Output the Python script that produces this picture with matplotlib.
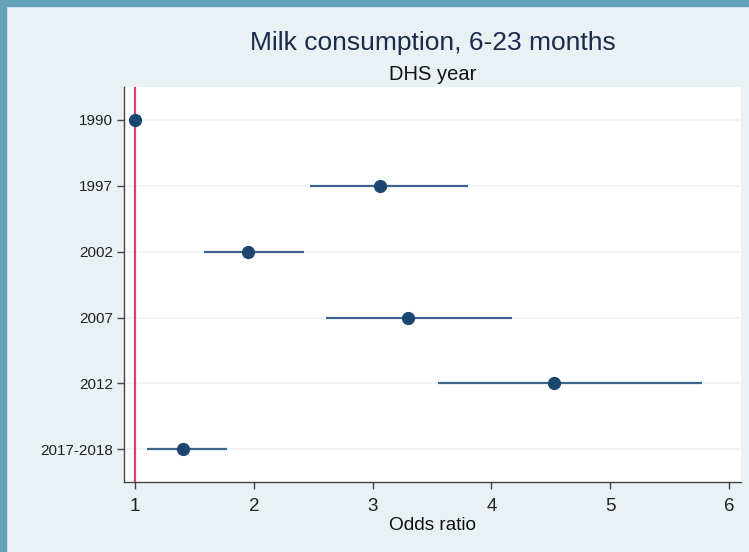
import numpy as np
import matplotlib.pyplot as plt

plt.rcParams['font.family'] = ['Liberation Sans', 'DejaVu Sans']

# Odds ratios with 95% CI by survey round
years = ['1990', '1997', '2002', '2007', '2012', '2017-2018']
odds = [1.00, 3.06, 1.95, 3.30, 4.53, 1.40]
ci_low = [1.00, 2.47, 1.58, 2.61, 3.55, 1.10]
ci_high = [1.00, 3.80, 2.42, 4.17, 5.77, 1.77]
xticks = [1, 2, 3, 4, 5, 6]

fig = plt.figure(figsize=(7.49, 5.52), dpi=100)
fig.patch.set_facecolor('#eaf1f4')

# frame strips along top and left
fig.add_artist(plt.Rectangle((0, 1 - 6 / 552), 1, 6 / 552, transform=fig.transFigure,
                             color='#64a3bb', zorder=0))
fig.add_artist(plt.Rectangle((0, 0), 6 / 749, 1, transform=fig.transFigure,
                             color='#64a3bb', zorder=0))

ax = fig.add_axes([124 / 749, 1 - 481.5 / 552, (741 - 124) / 749, (481.5 - 87) / 552])
ax.set_facecolor('white')

y = np.arange(len(years))
for yi in y:
    ax.axhline(yi, color='#eef3f6', lw=1.2, zorder=1)

ax.axvline(1, color='#d9416a', lw=1.6, zorder=2)

ax.hlines(y, ci_low, ci_high, color='#3a6489', lw=1.6, zorder=3)
ax.plot(odds, y, 'o', color='#1a4670', ms=8.5, zorder=4)

ax.set_xlim(0.907, 6.10)
ax.set_ylim(len(years) - 1 + 0.49, -0.5)
ax.set_yticks(y)
ax.set_yticklabels(years, fontsize=11)
ax.set_xticks(xticks)
ax.set_xticklabels([str(t) for t in xticks], fontsize=13.5)

for side in ['top', 'right']:
    ax.spines[side].set_visible(False)
for side in ['left', 'bottom']:
    ax.spines[side].set_color('#444444')
    ax.spines[side].set_linewidth(1.0)
ax.tick_params(axis='both', colors='#444444', length=5, width=1, labelcolor='#222222')
ax.tick_params(axis='y', pad=3)
ax.tick_params(axis='x', pad=7)

ax.set_xlabel('Odds ratio', fontsize=13.7, color='#111111', labelpad=1)

fig.text(432.5 / 749, 1 - 43 / 552, 'Milk consumption, 6-23 months', ha='center', va='center',
         fontsize=19, color='#1a2b4c')
fig.text(432.5 / 749, 1 - 74 / 552, 'DHS year', ha='center', va='center',
         fontsize=14.5, color='#111111')

fig.savefig('out.png', dpi=100, facecolor=fig.get_facecolor())
